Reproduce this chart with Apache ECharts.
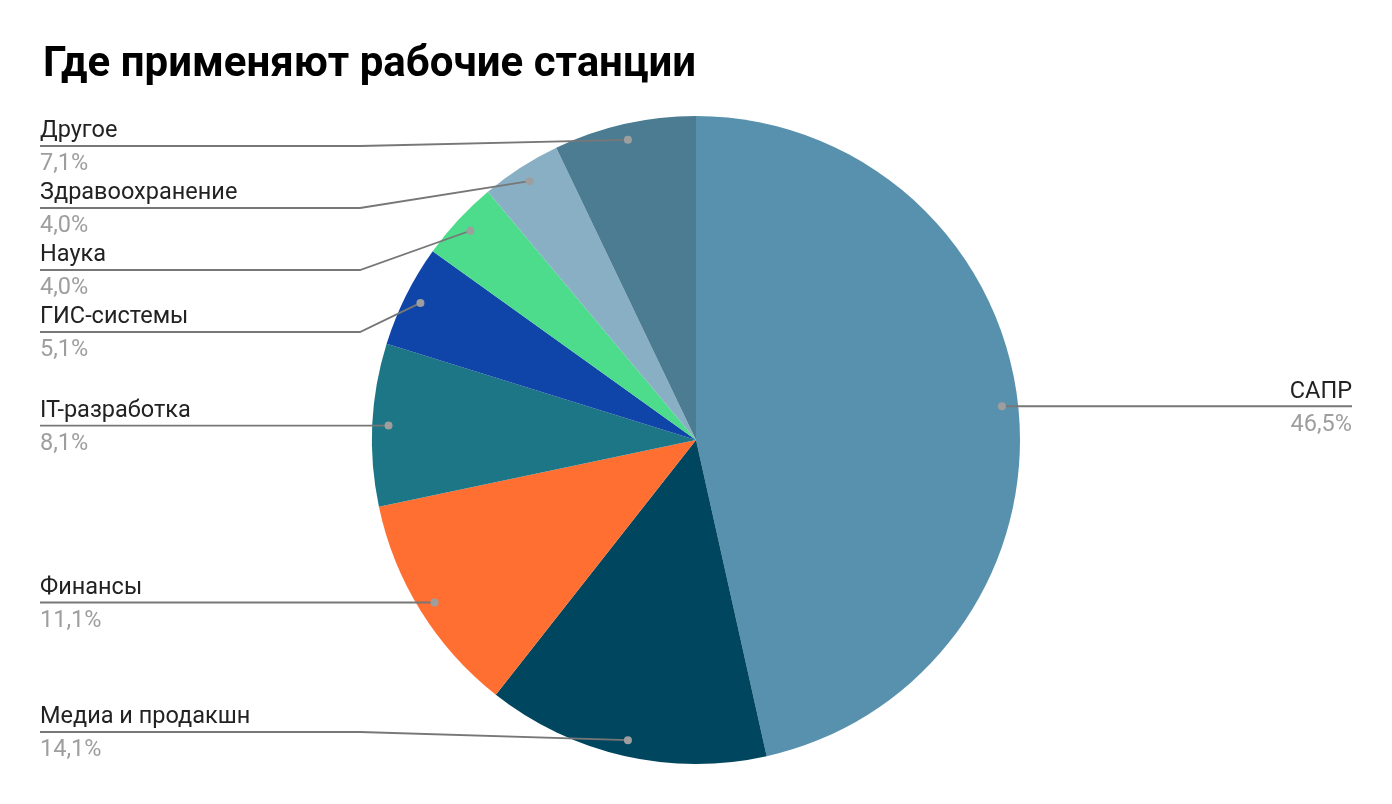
<!DOCTYPE html>
<html>
<head>
<meta charset="utf-8">
<script src="https://cdn.jsdelivr.net/npm/echarts@6/dist/echarts.min.js"></script>
<style>
  html, body { margin: 0; padding: 0; background: #fff; }
  #chart { width: 1392px; height: 804px; }
</style>
</head>
<body>
<div id="chart"></div>
<script>
const titleText = 'Где применяют рабочие станции';
const categories = ['САПР', 'Медиа и продакшн', 'Финансы', 'IT-разработка', 'ГИС-системы', 'Наука', 'Здравоохранение', 'Другое'];
const values = [46.5, 14.1, 11.1, 8.1, 5.1, 4.0, 4.0, 7.1];
const colors = ['#5891ad', '#01465f', '#ff6f31', '#1c7685', '#0f45a8', '#4cdc8b', '#89afc4', '#4c7c91'];

const FONT = 'Roboto, "Noto Sans", Arial, sans-serif';
const EDGE = 40;
const LABEL_GAP = 62;
const TOP_BOUND = 146;
const BOTTOM_BOUND = 732;

const chart = echarts.init(document.getElementById('chart'), null, { renderer: 'canvas' });

function fmt(v) { return v.toFixed(1).replace('.', ',') + '%'; }

let labelPos = null;

function computeLabelPos() {
  const data = chart.getModel().getSeriesByIndex(0).getData();
  const W = chart.getWidth();
  const items = [];
  for (let i = 0; i < data.count(); i++) {
    const l = data.getItemLayout(i);
    const mid = (l.startAngle + l.endAngle) / 2;
    const dr = l.r * 0.95;
    const dx = l.cx + dr * Math.cos(mid);
    const dy = l.cy + dr * Math.sin(mid);
    items.push({ i, dot: [dx, dy], left: dx < l.cx, cx: l.cx, r: l.r, y: dy });
  }
  ['left', 'right'].forEach(side => {
    const list = items.filter(it => (side === 'left') === it.left).sort((a, b) => a.dot[1] - b.dot[1]);
    let prev = -Infinity;
    list.forEach(it => { it.y = Math.max(it.dot[1], prev + LABEL_GAP, TOP_BOUND); prev = it.y; });
    let next = Infinity;
    for (let k = list.length - 1; k >= 0; k--) {
      const it = list[k];
      it.y = Math.min(it.y, next - LABEL_GAP, BOTTOM_BOUND);
      next = it.y;
    }
  });
  const res = {};
  items.forEach(it => {
    const bendX = it.left ? it.cx - it.r - 12 : it.cx + it.r + 12;
    const endX = it.left ? EDGE : W - EDGE;
    res[it.i] = {
      x: endX, y: it.y, align: it.left ? 'left' : 'right', dot: it.dot,
      points: [it.dot, [bendX, it.y], [endX, it.y]]
    };
  });
  return res;
}

const option = {
  backgroundColor: '#ffffff',
  animation: false,
  title: {
    text: titleText,
    left: 38,
    top: 39,
    textStyle: { fontFamily: FONT, fontSize: 42, fontWeight: 'bold', color: '#000000' }
  },
  series: [{
    type: 'pie',
    center: ['50%', '54.73%'],
    radius: 324,
    startAngle: 90,
    clockwise: true,
    avoidLabelOverlap: false,
    itemStyle: { borderWidth: 0 },
    emphasis: { disabled: true },
    label: {
      show: true,
      position: 'outside',
      formatter: p => '{n|' + p.name + '}\n{v|' + fmt(p.value) + '}',
      rich: {
        n: { fontFamily: FONT, fontSize: 23.5, color: '#222222', lineHeight: 33 },
        v: { fontFamily: FONT, fontSize: 23.5, color: '#9e9e9e', lineHeight: 33 }
      }
    },
    labelLine: { show: false },
    labelLayout: function (params) {
      if (!labelPos) return {};
      const lp = labelPos[params.dataIndex];
      if (!lp) return {};
      return { x: lp.x, y: lp.y + 2, align: lp.align, verticalAlign: 'middle' };
    },
    data: categories.map((c, i) => ({ name: c, value: values[i], itemStyle: { color: colors[i] } }))
  }]
};

chart.setOption(option);
labelPos = computeLabelPos();
const graphics = [];
Object.keys(labelPos).forEach(k => {
  graphics.push({
    type: 'polyline', z: 90, silent: true,
    shape: { points: labelPos[k].points },
    style: { stroke: '#777777', lineWidth: 1.8, fill: null }
  });
  graphics.push({
    type: 'circle', z: 100, silent: true,
    shape: { cx: labelPos[k].dot[0], cy: labelPos[k].dot[1], r: 4 },
    style: { fill: '#9e9e9e' }
  });
});
chart.setOption({
  series: [{ labelLayout: option.series[0].labelLayout }],
  graphic: graphics
});
</script>
</body>
</html>
